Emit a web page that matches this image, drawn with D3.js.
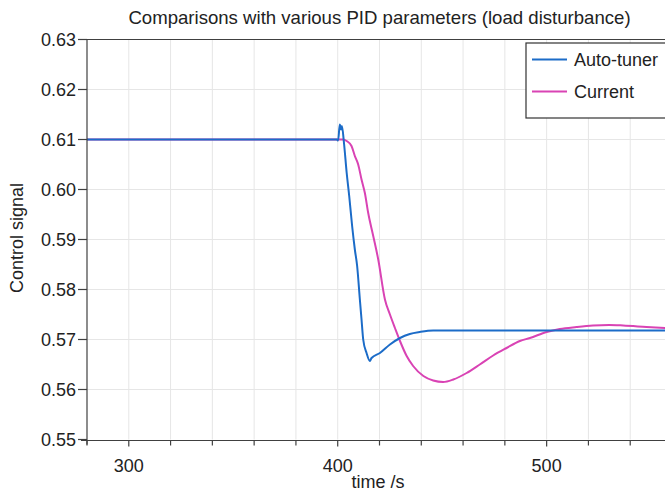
<!DOCTYPE html>
<html>
<head>
<meta charset="utf-8">
<script src="https://cdn.jsdelivr.net/npm/d3@7"></script>
<style>
  body { margin: 0; background: #fff; }
  text { font-family: "Liberation Sans", Arial, sans-serif; fill: #222; }
</style>
</head>
<body>
<svg width="665" height="492"></svg>
<script>
// data
var seriesNames = ["Auto-tuner", "Current"];
var seriesColors = ["#1c6cc8", "#d943b4"];

var autoTime = [280, 399.6, 400.2, 401.0, 401.6, 402.0, 403.0, 404.3, 405.5, 406.9, 408.2, 409.3,
    410.6, 411.4, 412.2, 413.8, 415.4, 416.2, 420.2, 425.0, 429.8, 434.5, 439.3, 445.7, 460, 500, 560];
var autoValue = [0.61, 0.61, 0.6098, 0.6130, 0.6120, 0.6127, 0.6093, 0.6033, 0.5987, 0.5927, 0.588, 0.5847,
    0.578, 0.574, 0.570, 0.5673, 0.5657, 0.5663, 0.5673, 0.569, 0.5703, 0.5711, 0.5715, 0.5718, 0.5718, 0.5718, 0.5718];

var curTime = [280, 402.6, 404.3, 406.6, 408.2, 409.8, 411.4, 413.0, 414.6, 417.0, 419.4,
    422.6, 425.0, 427.4, 429.8, 433.0, 436.1, 441.0, 445.7, 450.5, 455.3, 461.7, 468.0, 474.4, 480.8,
    487.2, 492.0, 500.0, 506.3, 514.3, 522.2, 530.0, 536.6, 547.8, 560];
var curValue = [0.61, 0.61, 0.6097, 0.6087, 0.6067, 0.605, 0.602, 0.5993, 0.5953, 0.5907, 0.586,
    0.578, 0.575, 0.5723, 0.5697, 0.5667, 0.5647, 0.5627, 0.5618, 0.5615, 0.562, 0.5633, 0.565, 0.5668, 0.5683,
    0.5697, 0.5703, 0.5715, 0.5721, 0.5725, 0.5728, 0.5729, 0.5728, 0.5725, 0.5722];

var yTicks = [0.55, 0.56, 0.57, 0.58, 0.59, 0.60, 0.61, 0.62, 0.63];
var xMinorTicks = d3.range(280, 561, 20);
var xLabelTicks = [300, 400, 500];

var svg = d3.select("svg");

var x = d3.scaleLinear().domain([280, 560]).range([87, 672]);
var y = d3.scaleLinear().domain([0.55, 0.63]).range([439.5, 39.5]);

var axisColor = "#404040";
var gridColor = "#e6e6e6";

// grid
svg.append("g").selectAll("line").data(xMinorTicks.slice(1)).enter().append("line")
    .attr("x1", function(d) { return x(d); }).attr("x2", function(d) { return x(d); })
    .attr("y1", y(0.63)).attr("y2", y(0.55))
    .attr("stroke", gridColor).attr("stroke-width", 1);
svg.append("g").selectAll("line").data(yTicks.slice(1, -1)).enter().append("line")
    .attr("x1", x(280)).attr("x2", 665)
    .attr("y1", function(d) { return y(d); }).attr("y2", function(d) { return y(d); })
    .attr("stroke", gridColor).attr("stroke-width", 1);

// curves
svg.append("clipPath").attr("id", "clip").append("rect")
    .attr("x", x(280)).attr("y", y(0.63)).attr("width", 600).attr("height", y(0.55) - y(0.63));

var line = d3.line()
    .curve(d3.curveMonotoneX)
    .x(function(d) { return x(d[0]); })
    .y(function(d) { return y(d[1]); });

var series = [d3.zip(autoTime, autoValue), d3.zip(curTime, curValue)];
// draw Current first so Auto-tuner ends up on top where they overlap at the start
[1, 0].forEach(function(i) {
    svg.append("path")
        .datum(series[i])
        .attr("clip-path", "url(#clip)")
        .attr("d", line)
        .attr("fill", "none")
        .attr("stroke", seriesColors[i])
        .attr("stroke-width", 2)
        .attr("stroke-linejoin", "round");
});

// axes frame
svg.append("line").attr("x1", x(280)).attr("x2", x(280)).attr("y1", y(0.63)).attr("y2", y(0.55) + 5)
    .attr("stroke", axisColor).attr("stroke-width", 1.2);
svg.append("line").attr("x1", x(280) - 6).attr("x2", 665).attr("y1", y(0.55) + 1).attr("y2", y(0.55) + 1)
    .attr("stroke", axisColor).attr("stroke-width", 1.2);
svg.append("line").attr("x1", x(280)).attr("x2", 665).attr("y1", y(0.63)).attr("y2", y(0.63))
    .attr("stroke", axisColor).attr("stroke-width", 1.2);

// y ticks
var yt = svg.append("g").selectAll("g").data(yTicks).enter().append("g");
yt.append("line")
    .attr("x1", x(280) - 9).attr("x2", x(280))
    .attr("y1", function(d) { return y(d); }).attr("y2", function(d) { return y(d); })
    .attr("stroke", axisColor).attr("stroke-width", 1.2);
yt.append("text")
    .attr("x", x(280) - 11)
    .attr("y", function(d) { return y(d); })
    .attr("dy", "0.35em")
    .attr("text-anchor", "end")
    .style("font-size", "18px")
    .text(function(d) { return d3.format(".2f")(d); });

// x ticks
svg.append("g").selectAll("line").data(xMinorTicks).enter().append("line")
    .attr("x1", function(d) { return x(d); }).attr("x2", function(d) { return x(d); })
    .attr("y1", y(0.55) + 1).attr("y2", function(d) { return y(0.55) + (d % 100 === 0 ? 7 : 6); })
    .attr("stroke", axisColor).attr("stroke-width", 1.2);
svg.append("g").selectAll("text").data(xLabelTicks).enter().append("text")
    .attr("x", function(d) { return x(d); })
    .attr("y", 472)
    .attr("text-anchor", "middle")
    .style("font-size", "18px")
    .text(function(d) { return d; });

// labels
svg.append("text")
    .attr("x", 379.5).attr("y", 24)
    .attr("text-anchor", "middle")
    .style("font-size", "18.6px")
    .text("Comparisons with various PID parameters (load disturbance)");
svg.append("text")
    .attr("x", 378).attr("y", 488)
    .attr("text-anchor", "middle")
    .style("font-size", "18px")
    .text("time /s");
svg.append("text")
    .attr("transform", "translate(23,238) rotate(-90)")
    .attr("text-anchor", "middle")
    .style("font-size", "18px")
    .text("Control signal");

// legend
var lg = svg.append("g");
lg.append("rect")
    .attr("x", 526).attr("y", 43).attr("width", 150).attr("height", 75)
    .attr("fill", "#fff").attr("stroke", "#333").attr("stroke-width", 1.2);
seriesNames.forEach(function(name, i) {
    var ly = 59.5 + i * 32;
    lg.append("line")
        .attr("x1", 532).attr("x2", 567).attr("y1", ly).attr("y2", ly)
        .attr("stroke", seriesColors[i]).attr("stroke-width", 2);
    lg.append("text")
        .attr("x", 574).attr("y", ly)
        .attr("dy", "0.36em")
        .style("font-size", "18px")
        .text(name);
});
</script>
</body>
</html>
